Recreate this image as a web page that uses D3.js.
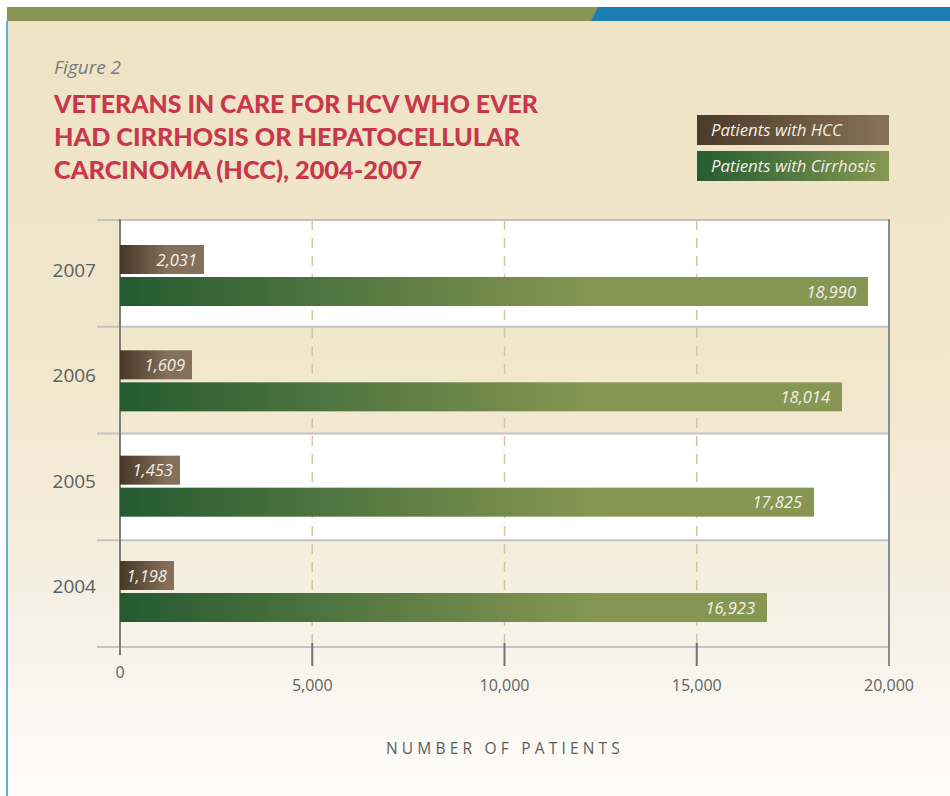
<!DOCTYPE html>
<html><head><meta charset="utf-8">
<script src="https://cdn.jsdelivr.net/npm/d3@7"></script>
<style>html,body{margin:0;padding:0;background:#fff;}svg{display:block;}</style>
</head><body>
<script>
// ---- data ----
const years = ["2007", "2006", "2005", "2004"];
const hccValues = [2031, 1609, 1453, 1198];
const cirrhosisValues = [18990, 18014, 17825, 16923];
// bar extents as drawn in the reference (bars are not exactly to label value)
const hccBarExtent = [2185, 1873, 1560, 1404];
const cirrhosisBarExtent = [19454, 18778, 18050, 16827];
const xTicks = [0, 5000, 10000, 15000, 20000];
const legendLabels = ["Patients with HCC", "Patients with Cirrhosis"];
const titleLines = ["VETERANS IN CARE FOR HCV WHO EVER", "HAD CIRRHOSIS OR HEPATOCELLULAR", "CARCINOMA (HCC), 2004-2007"];

const W = 950, H = 796;
const svg = d3.select("body").append("svg").attr("width", W).attr("height", H);
const defs = svg.append("defs");

const bg = defs.append("linearGradient").attr("id", "bg").attr("x1", 0).attr("y1", 0).attr("x2", 0).attr("y2", 1);
bg.append("stop").attr("offset", "0%").attr("stop-color", "#efe3c5");
bg.append("stop").attr("offset", "45%").attr("stop-color", "#f1e7cd");
bg.append("stop").attr("offset", "75%").attr("stop-color", "#f6f0e4");
bg.append("stop").attr("offset", "100%").attr("stop-color", "#fefdfb");

function hgrad(id, x1, x2, c1, c2) {
  const g = defs.append("linearGradient").attr("id", id).attr("gradientUnits", "userSpaceOnUse")
    .attr("x1", x1).attr("x2", x2).attr("y1", 0).attr("y2", 0);
  g.append("stop").attr("offset", "0%").attr("stop-color", c1);
  g.append("stop").attr("offset", "100%").attr("stop-color", c2);
}

// page frame
svg.append("rect").attr("x", 0).attr("y", 0).attr("width", W).attr("height", H).attr("fill", "#fff");
svg.append("rect").attr("x", 7).attr("y", 21).attr("width", W - 7).attr("height", H - 21).attr("fill", "url(#bg)");
svg.append("rect").attr("x", 6).attr("y", 21).attr("width", 2).attr("height", H - 21).attr("fill", "#64abd8");
svg.append("rect").attr("x", 7).attr("y", 7).attr("width", 595).attr("height", 14).attr("fill", "#879753");
svg.append("path").attr("d", "M591,21 L598,7 L950,7 L950,21 Z").attr("fill", "#1b7db2");

// titles
svg.append("text").attr("x", 54).attr("y", 74).text("Figure 2")
  .attr("font-family", "'Open Sans', sans-serif").attr("font-style", "italic").attr("font-size", 19).attr("fill", "#7a7a7a");
const titleWidths = [484, 466, 368];
svg.append("g").selectAll("text").data(titleLines).join("text")
  .attr("x", 54).attr("y", (d, i) => 113 + i * 33)
  .attr("font-family", "Lato, 'Open Sans', sans-serif").attr("font-weight", 900).attr("font-size", 25)
  .attr("fill", "#c8374b")
  .attr("textLength", (d, i) => titleWidths[i]).attr("lengthAdjust", "spacingAndGlyphs")
  .text(d => d);

// scales
const x = d3.scaleLinear().domain([0, 20000]).range([120, 889]);
const y = d3.scaleBand().domain(years).range([220, 647]);
const yBar = d3.scalePoint().domain(years).range([245, 561]);

// alternating row bands
svg.append("g").selectAll("rect").data(years.filter((d, i) => i % 2 === 0)).join("rect")
  .attr("x", x(0)).attr("y", d => y(d)).attr("width", x(20000) - x(0)).attr("height", y.bandwidth())
  .attr("fill", "#ffffff");

// dashed gridlines
svg.append("g").selectAll("line").data(xTicks.filter(t => t > 0 && t < 20000)).join("line")
  .attr("x1", d => x(d)).attr("x2", d => x(d)).attr("y1", 220).attr("y2", 643)
  .attr("stroke", "#d6c4a0").attr("stroke-width", 1.5).attr("stroke-dasharray", "10,8");

// row separator lines
const rowEdges = years.map(d => y(d)).concat([y.range()[1]]);
svg.append("g").selectAll("line").data(rowEdges).join("line")
  .attr("x1", 97).attr("x2", x(20000)).attr("y1", d => d).attr("y2", d => d)
  .attr("stroke", "#c3c3c3").attr("stroke-width", 2);

// axis lines / ticks
svg.append("line").attr("x1", x(0)).attr("x2", x(0)).attr("y1", 219).attr("y2", 655).attr("stroke", "#7b7f80").attr("stroke-width", 2);
svg.append("line").attr("x1", x(20000)).attr("x2", x(20000)).attr("y1", 219).attr("y2", 666).attr("stroke", "#8a8d8d").attr("stroke-width", 2);
svg.append("g").selectAll("line").data(xTicks.filter(t => t > 0 && t < 20000)).join("line")
  .attr("x1", d => x(d)).attr("x2", d => x(d)).attr("y1", 643).attr("y2", 666)
  .attr("stroke", "#6f7374").attr("stroke-width", 2);

// tick labels
svg.append("g").selectAll("text").data(xTicks).join("text")
  .attr("x", d => x(d)).attr("y", d => d === 0 ? 678 : 691)
  .attr("text-anchor", "middle")
  .attr("font-family", "'Open Sans', sans-serif").attr("font-size", 16).attr("fill", "#5f6466")
  .text(d => d3.format(",")(d));

// axis title
svg.append("text").attr("x", 505).attr("y", 754).attr("text-anchor", "middle")
  .attr("font-family", "'Open Sans', sans-serif").attr("font-size", 15.5).attr("letter-spacing", 4.2)
  .attr("fill", "#5a6063").text("NUMBER OF PATIENTS");

// year labels
svg.append("g").selectAll("text").data(years).join("text")
  .attr("x", 96).attr("y", d => yBar(d) + 32).attr("text-anchor", "end")
  .attr("font-family", "'Open Sans', sans-serif").attr("font-size", 19).attr("fill", "#5a5f61")
  .text(d => d);

// gradients for bars
hgrad("hccGrad", x(0), x(0) + 48, "#473727", "#84705a");
hgrad("cirGrad", x(0), x(0) + 480, "#245a30", "#879753");
hgrad("hccLeg", 697, 889, "#4a3a29", "#887358");
hgrad("cirLeg", 697, 889, "#255c31", "#879753");

const barH = 29;
const rows = years.map((yr, i) => ({ yr, hcc: hccValues[i], cir: cirrhosisValues[i], hccE: hccBarExtent[i], cirE: cirrhosisBarExtent[i] }));
const rowG = svg.append("g").selectAll("g").data(rows).join("g");
rowG.append("rect").attr("x", x(0)).attr("y", d => yBar(d.yr)).attr("width", d => x(d.hccE) - x(0)).attr("height", barH).attr("fill", "url(#hccGrad)");
rowG.append("rect").attr("x", x(0)).attr("y", d => yBar(d.yr) + 32).attr("width", d => x(d.cirE) - x(0)).attr("height", barH).attr("fill", "url(#cirGrad)");
rowG.append("text").attr("x", d => x(d.hccE) - 7).attr("y", d => yBar(d.yr) + 20.5).attr("text-anchor", "end")
  .attr("font-family", "'Open Sans', sans-serif").attr("font-style", "italic").attr("font-size", 16.5).attr("fill", "#f4efe6")
  .text(d => d3.format(",")(d.hcc));
rowG.append("text").attr("x", d => x(d.cirE) - 12).attr("y", d => yBar(d.yr) + 32 + 20.5).attr("text-anchor", "end")
  .attr("font-family", "'Open Sans', sans-serif").attr("font-style", "italic").attr("font-size", 16.5).attr("fill", "#f4efe6")
  .text(d => d3.format(",")(d.cir));

// legend
const leg = svg.append("g").selectAll("g").data(legendLabels).join("g");
leg.append("rect").attr("x", 697).attr("y", (d, i) => 115 + i * 36).attr("width", 192).attr("height", 30)
  .attr("fill", (d, i) => i === 0 ? "url(#hccLeg)" : "url(#cirLeg)");
leg.append("text").attr("x", 711).attr("y", (d, i) => 115 + i * 36 + 21)
  .attr("font-family", "'Open Sans', sans-serif").attr("font-style", "italic").attr("font-size", 16.8).attr("fill", "#f2eee6")
  .text(d => d);
</script>
</body></html>
